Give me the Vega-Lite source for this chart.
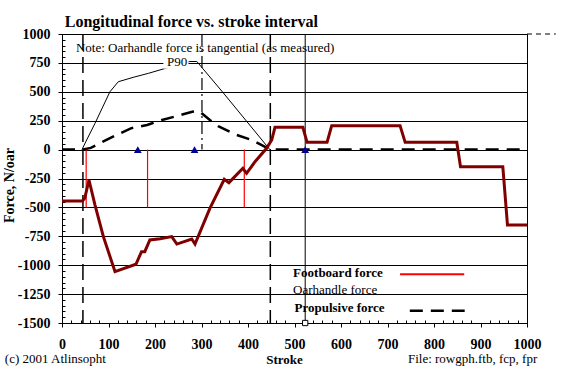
{
  "$schema": "https://vega.github.io/schema/vega-lite/v6.json",
  "width": 465,
  "height": 289,
  "autosize": {"type": "none"},
  "padding": {"left": 62, "top": 34, "right": 41, "bottom": 46},
  "background": "white",
  "config": {
    "view": {"stroke": "black", "strokeWidth": 1},
    "font": "Liberation Serif",
    "axis": {"domainColor": "black", "tickColor": "black", "labelColor": "black", "titleColor": "black", "labelFont": "Liberation Serif", "titleFont": "Liberation Serif"}
  },
  "datasets": {
    "foot": [
      {"x": 0, "y": -445}, {"x": 44, "y": -445}, {"x": 49, "y": -420}, {"x": 58, "y": -263},
      {"x": 71, "y": -480}, {"x": 89, "y": -753}, {"x": 114, "y": -1056}, {"x": 159, "y": -992},
      {"x": 171, "y": -883}, {"x": 178, "y": -883}, {"x": 189, "y": -782}, {"x": 211, "y": -771},
      {"x": 236, "y": -753}, {"x": 247, "y": -817}, {"x": 279, "y": -773}, {"x": 286, "y": -817},
      {"x": 318, "y": -508}, {"x": 349, "y": -257}, {"x": 359, "y": -286}, {"x": 389, "y": -162},
      {"x": 397, "y": -205}, {"x": 415, "y": -105}, {"x": 440, "y": 11}, {"x": 451, "y": 83},
      {"x": 458, "y": 193}, {"x": 518, "y": 193}, {"x": 527, "y": 63}, {"x": 570, "y": 63},
      {"x": 580, "y": 207}, {"x": 727, "y": 207}, {"x": 738, "y": 63}, {"x": 849, "y": 63},
      {"x": 857, "y": -148}, {"x": 948, "y": -148}, {"x": 958, "y": -652}, {"x": 1000, "y": -652}
    ],
    "oar": [
      {"x": 43, "y": 0}, {"x": 53, "y": 83}, {"x": 71, "y": 227}, {"x": 103, "y": 500},
      {"x": 121, "y": 587}, {"x": 153, "y": 625}, {"x": 186, "y": 660}, {"x": 220, "y": 700},
      {"x": 250, "y": 735}, {"x": 275, "y": 762}, {"x": 290, "y": 762}, {"x": 347, "y": 490},
      {"x": 447, "y": 0}
    ],
    "prop": [
      {"x": 0, "y": 0}, {"x": 45, "y": 0}, {"x": 62, "y": 15}, {"x": 88, "y": 68},
      {"x": 117, "y": 126}, {"x": 148, "y": 184}, {"x": 183, "y": 213}, {"x": 215, "y": 256},
      {"x": 247, "y": 290}, {"x": 280, "y": 328}, {"x": 295, "y": 332}, {"x": 305, "y": 300},
      {"x": 318, "y": 256}, {"x": 337, "y": 200}, {"x": 375, "y": 128}, {"x": 410, "y": 80},
      {"x": 448, "y": 0}, {"x": 1000, "y": 0}
    ],
    "phase": [{"x": 45, "y": 1000, "y2": -1500}, {"x": 448, "y": 1000, "y2": -1500}],
    "peak": [{"x": 301, "y": 1000, "y2": 0}],
    "recov": [{"x": 523, "y": 1000, "y2": -1500}],
    "redmarks": [{"x": 52, "y": 0, "y2": -500}, {"x": 184, "y": 0, "y2": -500}, {"x": 392, "y": 0, "y2": -500}],
    "tri": [{"x": 163, "y": 0}, {"x": 285, "y": 0}, {"x": 523, "y": 0}],
    "sq": [{"x": 523, "y": -1500}],
    "titletext": [{"x": 6, "y": 1060, "text": "Longitudinal force vs. stroke interval"}],
    "boldtext": [
      {"x": 497, "y": -1068, "text": "Footboard force"},
      {"x": 500, "y": -1370, "text": "Propulsive force"}
    ],
    "normtext": [
      {"x": 30, "y": 879, "text": "Note: Oarhandle force is tangential (as measured)"},
      {"x": 226, "y": 762, "text": "P90"},
      {"x": 497, "y": -1215, "text": "Oarhandle force"},
      {"x": -123, "y": -1811, "text": "(c) 2001 Atlinsopht"},
      {"x": 744, "y": -1811, "text": "File: rowgph.ftb, fcp, fpr"}
    ]
  },
  "encoding": {
    "x": {"field": "x", "type": "quantitative", "scale": {"domain": [0, 1000], "nice": false, "zero": false}, "axis": null},
    "y": {"field": "y", "type": "quantitative", "scale": {"domain": [-1500, 1000], "nice": false, "zero": false}, "axis": null}
  },
  "resolve": {"axis": {"x": "independent", "y": "independent"}},
  "layer": [
    {
      "data": {"name": "phase"},
      "mark": {"type": "rule", "color": "black", "strokeWidth": 1.5, "strokeDash": [16, 7]},
      "encoding": {"y2": {"field": "y2"}}
    },
    {
      "data": {"name": "peak"},
      "mark": {"type": "rule", "color": "black", "strokeWidth": 1.2, "strokeDash": [12, 4, 2, 4]},
      "encoding": {"y2": {"field": "y2"}}
    },
    {
      "data": {"name": "recov"},
      "mark": {"type": "rule", "color": "black", "strokeWidth": 1},
      "encoding": {"y2": {"field": "y2"}}
    },
    {
      "data": {"name": "redmarks"},
      "mark": {"type": "rule", "color": "#ff0000", "strokeWidth": 1.2},
      "encoding": {"y2": {"field": "y2"}}
    },
    {
      "data": {"name": "sq"},
      "mark": {"type": "rule", "color": "black", "strokeWidth": 1, "strokeDash": [5, 4]},
      "encoding": {"x": {"datum": 1000, "type": "quantitative"}, "x2": {"datum": 1062}, "y": {"datum": 1000, "type": "quantitative"}}
    },
    {
      "data": {"name": "prop"},
      "mark": {"type": "line", "color": "black", "strokeWidth": 2.5, "strokeDash": [13, 8]},
      "encoding": {}
    },
    {
      "data": {"name": "oar"},
      "mark": {"type": "line", "color": "black", "strokeWidth": 1},
      "encoding": {}
    },
    {
      "data": {"name": "sq"},
      "mark": {"type": "rect", "fill": "white", "opacity": 1},
      "encoding": {"x": {"datum": 218, "type": "quantitative"}, "x2": {"datum": 272}, "y": {"datum": 700, "type": "quantitative"}, "y2": {"datum": 830}}
    },
    {
      "data": {"name": "foot"},
      "mark": {"type": "line", "color": "#800000", "strokeWidth": 3},
      "encoding": {
        "x": {"field": "x", "type": "quantitative", "scale": {"domain": [0, 1000], "nice": false, "zero": false},
          "axis": {"orient": "bottom", "values": [0, 100, 200, 300, 400, 500, 600, 700, 800, 900, 1000], "labelExpr": "'' + datum.value", "grid": false, "tickSize": 4, "labelFont": "Liberation Serif", "labelFontSize": 14, "labelFontWeight": "bold", "labelPadding": 10, "labelFlush": false, "title": "Stroke", "titleFont": "Liberation Serif", "titleFontSize": 13, "titleFontWeight": "bold", "titleX": 222, "titleY": 36, "titleBaseline": "middle"}},
        "y": {"field": "y", "type": "quantitative", "scale": {"domain": [-1500, 1000], "nice": false, "zero": false},
          "axis": {"orient": "left", "values": [-1500, -1250, -1000, -750, -500, -250, 0, 250, 500, 750, 1000], "labelExpr": "'' + datum.value", "grid": true, "gridColor": "black", "gridOpacity": 1, "gridWidth": 1, "tickSize": 4, "labelFont": "Liberation Serif", "labelFontSize": 14, "labelFontWeight": "bold", "labelPadding": 8, "labelFlush": false, "title": "Force, N/oar", "titleFont": "Liberation Serif", "titleFontSize": 14, "titleFontWeight": "bold", "titleAngle": -90, "titleX": -53, "titleY": 151, "titleAlign": "center", "titleBaseline": "middle"}}
      }
    },
    {
      "data": {"name": "tri"},
      "mark": {"type": "point", "shape": "triangle-up", "filled": true, "color": "#000099", "size": 60, "opacity": 1},
      "encoding": {
        "x": {"field": "x", "type": "quantitative", "scale": {"domain": [0, 1000], "nice": false, "zero": false},
          "axis": {"orient": "bottom", "values": [20, 40, 60, 80, 120, 140, 160, 180, 220, 240, 260, 280, 320, 340, 360, 380, 420, 440, 460, 480, 520, 540, 560, 580, 620, 640, 660, 680, 720, 740, 760, 780, 820, 840, 860, 880, 920, 940, 960, 980], "grid": false, "labels": false, "domain": false, "tickSize": -3, "title": null}},
        "y": {"field": "y", "type": "quantitative", "scale": {"domain": [-1500, 1000], "nice": false, "zero": false},
          "axis": {"orient": "left", "values": [-1450, -1400, -1350, -1300, -1200, -1150, -1100, -1050, -950, -900, -850, -800, -700, -650, -600, -550, -450, -400, -350, -300, -200, -150, -100, -50, 50, 100, 150, 200, 300, 350, 400, 450, 550, 600, 650, 700, 800, 850, 900, 950], "grid": false, "labels": false, "domain": false, "tickSize": -3, "title": null}}
      }
    },
    {
      "data": {"name": "sq"},
      "mark": {"type": "point", "shape": "square", "filled": true, "fill": "white", "stroke": "black", "strokeWidth": 1, "size": 28, "opacity": 1}
    },
    {
      "data": {"name": "titletext"},
      "mark": {"type": "text", "align": "left", "baseline": "alphabetic", "font": "Liberation Serif", "fontSize": 16, "fontWeight": "bold", "color": "black"},
      "encoding": {"text": {"field": "text"}}
    },
    {
      "data": {"name": "normtext"},
      "mark": {"type": "text", "align": "left", "baseline": "middle", "font": "Liberation Serif", "fontSize": 13, "color": "black"},
      "encoding": {"text": {"field": "text"}}
    },
    {
      "data": {"name": "boldtext"},
      "mark": {"type": "text", "align": "left", "baseline": "middle", "font": "Liberation Serif", "fontSize": 13, "fontWeight": "bold", "color": "black"},
      "encoding": {"text": {"field": "text"}}
    },
    {
      "data": {"name": "sq"},
      "mark": {"type": "rule", "color": "#ff0000", "strokeWidth": 2},
      "encoding": {"x": {"datum": 727, "type": "quantitative"}, "x2": {"datum": 865}, "y": {"datum": -1078, "type": "quantitative"}}
    },
    {
      "data": {"name": "sq"},
      "mark": {"type": "rule", "color": "black", "strokeWidth": 2.5, "strokeDash": [13, 8]},
      "encoding": {"x": {"datum": 748, "type": "quantitative"}, "x2": {"datum": 866}, "y": {"datum": -1393, "type": "quantitative"}}
    }
  ]
}
